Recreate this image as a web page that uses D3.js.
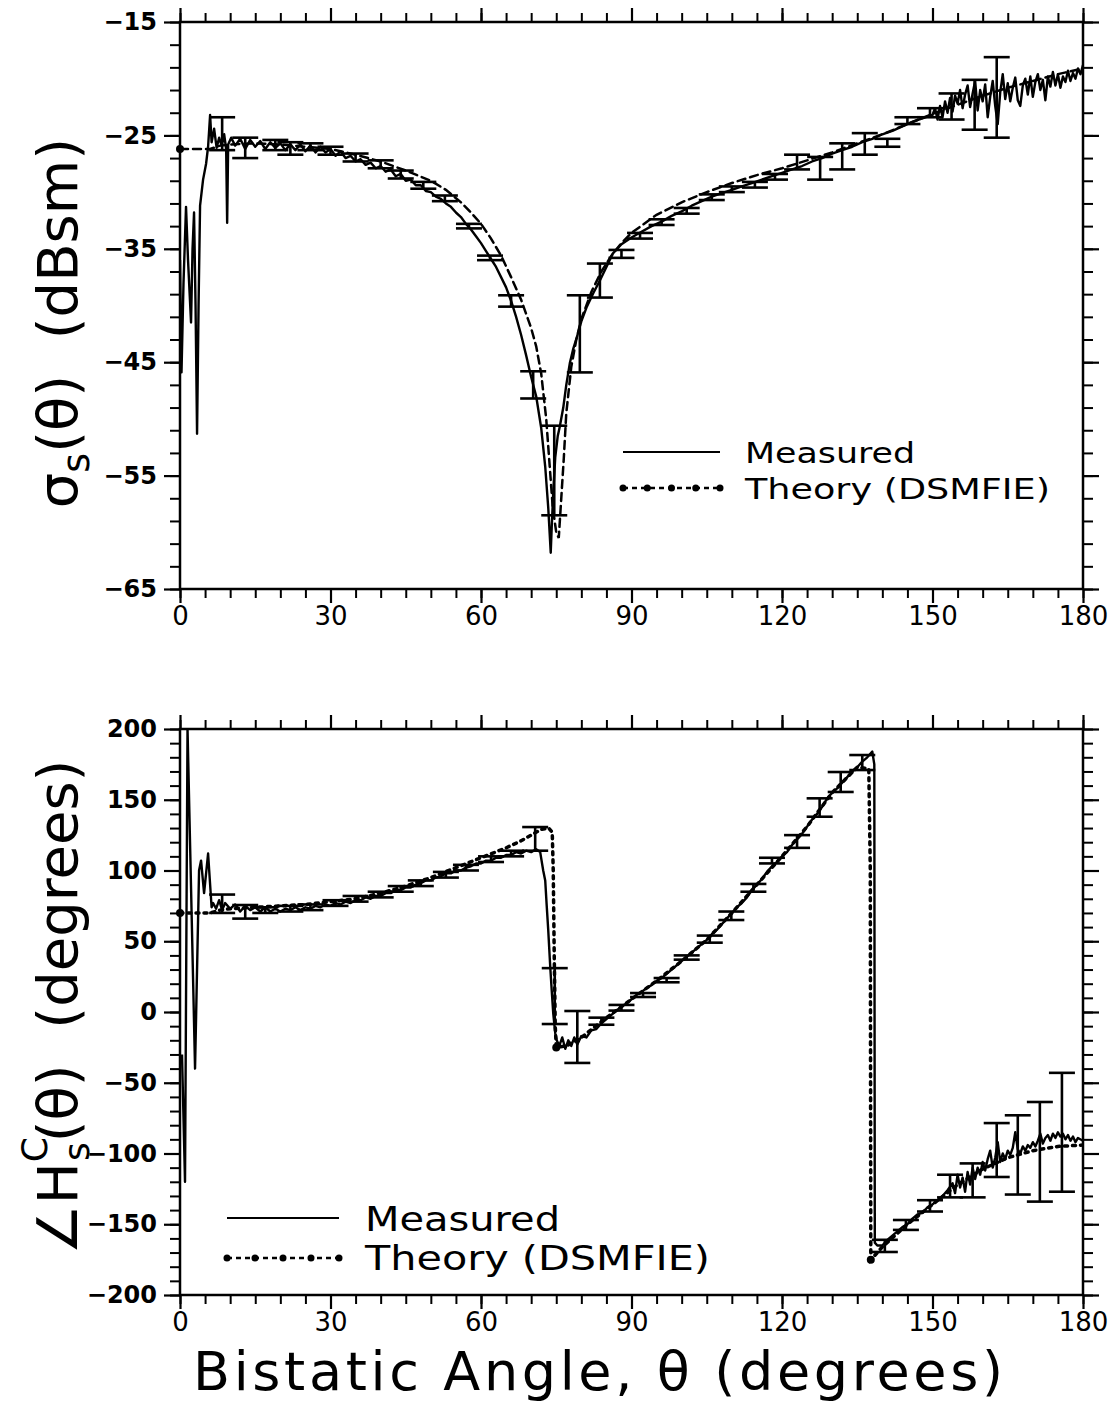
<!DOCTYPE html>
<html>
<script src="https://d3js.org/d3.v7.min.js"></script>

<head>
    <style>
        body {
            margin: 0;
            background-color: white;
        }

        svg {
            display: block;
            font-family: "DejaVu Sans", sans-serif;
        }
    </style>
</head>

<body>
</body>
<script>
    const width = 1112,
        height = 1403;

    // ---- data: [angle (deg), value] ----
    const angleMajor = [0, 30, 60, 90, 120, 150, 180];
    const rcsMajor = [-65, -55, -45, -35, -25, -15];
    const phaseMajor = [-200, -150, -100, -50, 0, 50, 100, 150, 200];

    const rcsMeasured = [
        [0, -36], [0.3, -45.9], [0.7, -38], [1.2, -31.3], [1.6, -36], [2.2, -41.5], [2.5, -35], [2.8, -31.8],
        [3.1, -40], [3.4, -51.3], [3.7, -40], [4.0, -31.2], [4.6, -28.9], [5.2, -27.5], [5.6, -26], [6.0, -23.2],
        [6.3, -25.6], [6.8, -24.4], [7.3, -26.1], [7.8, -25.2], [8.3, -25.9], [8.8, -24.9], [9.2, -26.2],
        [9.4, -32.7], [9.6, -25.8], [10.2, -25.2], [11, -25.9], [12, -25.3], [13, -26.2], [14, -25.4],
        [15, -26.0], [16, -25.5], [17, -26.2], [18, -25.6], [19, -26.1], [20, -25.7], [21, -26.3], [22, -25.8],
        [23, -26.3], [24, -25.8], [25, -26.4], [26, -25.9], [27, -26.5], [28, -26.0], [29, -26.5], [30, -26.2],
        [31, -26.8], [32, -26.4], [33, -27.0], [34, -26.8], [35, -27.3], [36, -27.1], [37, -27.6], [38, -27.4],
        [39, -27.9], [40, -27.7], [41, -28.2], [42, -28.0], [43, -28.6], [44, -28.4], [45, -29.0], [46, -28.9],
        [47, -29.4], [48, -29.4], [49, -29.9], [50, -30.0], [51, -30.4], [52, -30.6], [53, -31.0], [54, -31.3],
        [55, -31.8], [56, -32.2], [57, -32.8], [58, -33.3], [59, -33.9], [60, -34.5], [61, -35.2], [62, -35.9],
        [63, -36.6], [64, -37.5], [65, -38.4], [66, -39.6], [67, -41.0], [68, -42.6], [69, -44.4], [70, -46.3],
        [71, -48.0], [72, -50.8], [72.8, -54.2], [73.4, -57.8], [73.9, -61.8], [74.1, -59.5], [74.4, -56.5],
        [74.8, -53.4], [75.3, -51.5], [75.7, -50.7], [76.4, -49.0], [77.0, -47.0], [77.7, -45.1], [78.4, -43.8],
        [79.1, -42.8], [80, -41.4], [81.1, -40.1], [82.4, -38.9], [83.7, -37.8], [85, -36.6], [86.3, -35.4],
        [88, -34.6], [90, -34.0], [92, -33.5], [94, -33.0], [96, -32.6], [98, -32.1], [100, -31.7], [102, -31.2],
        [104, -30.8], [106, -30.4], [108, -30.1], [110, -29.8], [112, -29.5], [114, -29.2], [116, -28.9],
        [118, -28.6], [120, -28.3], [122, -28.0], [124, -27.7], [126, -27.3], [128, -27.0], [130, -26.6],
        [132, -26.3], [134, -26.0], [136, -25.6], [138, -25.3], [140, -24.9], [142, -24.6], [144, -24.2],
        [146, -23.8], [148, -23.5], [150, -23.2], [150.5, -22.6], [151, -23.6], [151.5, -22.4], [152, -23.4],
        [152.5, -22.0], [153, -23.0], [153.5, -21.7], [154, -22.9], [154.5, -21.5], [155, -22.2], [155.5, -21.0],
        [156, -22.6], [156.5, -21.4], [157, -20.6], [157.5, -22.5], [158, -21.3], [158.5, -20.2], [159, -22.8],
        [159.5, -21.0], [160, -22.0], [160.5, -20.5], [161, -23.4], [161.5, -21.6], [162, -20.2], [162.5, -22.4],
        [163, -24.0], [163.5, -21.2], [164, -19.6], [164.5, -21.8], [165, -20.4], [165.5, -22.0], [166, -20.8],
        [166.5, -19.9], [167, -21.9], [167.5, -22.4], [168, -20.6], [168.5, -20.0], [169, -21.4], [169.5, -19.8],
        [170, -21.6], [170.5, -20.3], [171, -19.6], [171.5, -21.0], [172, -20.1], [172.5, -21.9], [173, -19.8],
        [173.5, -20.7], [174, -19.4], [174.5, -20.6], [175, -19.6], [175.5, -20.8], [176, -19.8], [176.5, -20.3],
        [177, -19.3], [177.5, -20.2], [178, -19.5], [178.5, -20.0], [179, -19.1], [179.5, -19.6], [180, -18.8]
    ];

    const rcsTheory = [
        [0, -26.2], [2, -26.2], [4, -26.2], [6, -26.2], [8, -25.9], [10, -25.8], [15, -25.7], [20, -25.8],
        [25, -26.0], [30, -26.2], [35, -26.7], [40, -27.3], [45, -28.1], [50, -29.0], [53, -29.8], [56, -30.9],
        [58, -31.8], [60, -32.8], [62, -34.1], [64, -35.6], [66, -37.5], [68, -39.5], [70, -42.0], [71, -43.6],
        [72, -46.0], [73, -50.0], [73.7, -54.2], [74.3, -57.8], [75, -60.0], [75.5, -60.5], [76, -57.0],
        [76.5, -53.5], [77, -49.5], [78, -45.4], [79, -43.0], [80, -41.2], [82, -38.8], [84, -37.0], [86, -35.6],
        [88, -34.5], [90, -33.6], [95, -32.0], [100, -30.9], [105, -30.0], [110, -29.2], [115, -28.5],
        [120, -27.9], [125, -27.2], [130, -26.5], [135, -25.7], [140, -24.9], [145, -24.0], [150, -23.1],
        [155, -22.3], [160, -21.5], [165, -20.8], [170, -20.2], [175, -19.6], [180, -19.1]
    ];

    // [angle, low, high]
    const rcsErrors = [
        [8.4, -26.3, -23.4], [13, -27.0, -25.2], [19, -26.3, -25.4], [22, -26.7, -25.6], [26, -26.3, -25.7],
        [30, -26.7, -26.0], [35, -27.3, -26.6], [40, -27.9, -27.2], [44, -28.8, -28.1], [48.5, -29.7, -29.1],
        [52.8, -30.8, -30.3], [57.6, -33.2, -32.8], [61.8, -36.0, -35.6], [66, -40.1, -39.1],
        [70.4, -48.2, -45.8], [74.6, -58.5, -50.6], [79.7, -45.9, -39.1], [83.7, -39.3, -36.3],
        [88, -35.8, -35.1], [91.7, -34.1, -33.6], [96, -32.9, -32.4], [101, -31.9, -31.4], [106, -30.7, -30.2],
        [110, -30.0, -29.5], [114.6, -29.6, -29.1], [118.6, -28.9, -28.4], [123, -28.0, -26.7],
        [127.6, -28.9, -26.9], [132, -28.0, -25.7], [136.5, -26.7, -24.8], [141, -26.0, -25.3],
        [145, -24.0, -23.4], [149.5, -23.4, -22.6], [153.8, -23.6, -21.3], [158.4, -24.5, -20.1],
        [162.8, -25.2, -18.1]
    ];
    const rcsTheoryDots = [0];

    const phaseMeasured = [
        [0.4, -30], [1.0, -120], [1.5, 200], [3.0, -40], [3.8, 100], [4.2, 107], [4.8, 84], [5.6, 112],
        [6.3, 74], [6.6, 77], [7.2, 73], [7.8, 79], [8.4, 72], [9, 77], [10, 73], [11, 76], [12, 71], [13, 75],
        [14, 72], [15, 74], [16, 71], [17, 74], [18, 71], [19, 73], [20, 71], [21, 73], [22, 72], [23, 74],
        [24, 72], [25, 74], [26, 73], [27, 75], [28, 74], [29, 76], [30, 75], [31, 77], [32, 76], [33, 78],
        [34, 77], [35, 79], [36, 79], [37, 81], [38, 80], [39, 82], [40, 82], [41, 84], [42, 84], [43, 86],
        [44, 86], [45, 88], [46, 88], [47, 90], [48, 91], [49, 93], [50, 93], [51, 95], [52, 96], [53, 98],
        [54, 98], [55, 100], [56, 100], [57, 102], [58, 103], [59, 105], [60, 105], [61, 107], [62, 107],
        [63, 109], [64, 109], [65, 111], [66, 111], [67, 113], [68, 112], [69, 114], [70, 113], [71, 115],
        [71.8, 113], [72.4, 100], [72.8, 93], [73.1, 75], [73.4, 58], [73.6, 45], [73.8, 32], [74.1, 15],
        [74.4, -1], [74.8, -15], [75.1, -20], [75.6, -24], [76.2, -18], [76.8, -26], [77.4, -20], [78, -24],
        [78.6, -18], [79.2, -23], [80, -17], [81, -18], [82, -13], [83, -12], [84, -8], [85, -5], [86, -2],
        [87, 1], [88, 4], [89, 6], [90, 9], [91, 12], [92, 14], [93, 17], [94, 19], [95, 22], [96, 24], [97, 27],
        [98, 30], [99, 33], [100, 36], [101, 39], [102, 42], [103, 45], [104, 48], [105, 51], [106, 55],
        [107, 58], [108, 62], [109, 66], [110, 70], [111, 74], [112, 77], [113, 81], [114, 86], [115, 90],
        [116, 94], [117, 99], [118, 103], [119, 106], [120, 110], [121, 113], [122, 118], [123, 122],
        [124, 126], [125, 131], [126, 136], [127, 140], [128, 145], [129, 151], [130, 155], [131, 158],
        [132, 162], [133, 166], [134, 170], [135, 173], [136, 177], [137, 180], [138, 184], [138.4, 175],
        [138.5, -163], [139, -165], [140, -165], [141, -161], [142, -158], [143, -155], [144, -152],
        [145, -150], [146, -146], [147, -143], [148, -142], [149, -138], [150, -136], [151, -133], [152, -130],
        [153, -126], [154, -121], [154.5, -128], [155, -115], [155.5, -124], [156, -117], [156.5, -127],
        [157, -113], [157.5, -122], [158, -110], [158.5, -118], [159, -110], [159.5, -115], [160, -106],
        [160.5, -112], [161, -104], [161.5, -98], [162, -110], [162.5, -103], [163, -92], [163.5, -106],
        [164, -100], [164.5, -104], [165, -98], [165.5, -101], [166, -96], [166.5, -85], [167, -97],
        [167.5, -100], [168, -95], [168.5, -98], [169, -94], [169.5, -96], [170, -92], [170.5, -95], [171, -91],
        [171.5, -86], [172, -93], [172.5, -89], [173, -87], [173.5, -91], [174, -86], [174.5, -89], [175, -85],
        [175.5, -88], [176, -86], [176.5, -90], [177, -87], [177.5, -91], [178, -88], [178.5, -92], [179, -89],
        [180, -91]
    ];

    const phaseTheory = [
        [0, 70], [3, 70], [6, 70], [8, 72], [10, 73], [15, 74], [20, 75], [25, 76], [30, 78], [35, 80],
        [40, 84], [45, 89], [50, 95], [55, 102], [60, 109], [65, 116], [68, 121], [70, 125], [72, 129],
        [73.5, 130], [74.2, 127], [74.4, 100], [74.6, 40], [74.8, -10], [75, -25], [77, -24], [80, -18],
        [85, -4], [90, 9], [95, 22], [100, 36], [105, 51], [110, 70], [115, 90], [120, 110], [125, 131],
        [130, 155], [135, 173], [137.3, 172], [137.6, 100], [137.7, -175], [138.5, -172], [140, -166],
        [145, -150], [150, -136], [155, -122], [160, -111], [165, -103], [170, -98], [175, -95], [180, -94]
    ];

    const phaseErrors = [
        [8.4, 70, 83], [13, 66, 75.6], [17, 70, 74], [22, 71, 75], [26, 72, 76], [31, 75, 79], [35, 78, 82],
        [40, 81, 85], [44, 85, 89], [48, 89, 93], [53, 95, 99], [57, 100, 104], [62, 106, 110], [66, 110, 114],
        [70.8, 114, 130.7], [74.7, -8.5, 31], [79.2, -36, 0.7], [84, -9, -4], [88, 1, 5], [92.3, 10.6, 13.4],
        [97, 21, 24], [101, 37, 40], [105.6, 49, 54], [109.9, 65, 71], [114.3, 85, 90.5], [118, 105, 109],
        [123, 116, 125], [127.5, 138, 151], [131.7, 155.5, 169.6], [136, 171, 181.6], [140.5, -169.6, -161],
        [144.7, -154, -147], [149.5, -141, -133], [153.5, -131, -115], [158, -131, -107], [162.8, -116.6, -78.5],
        [167, -129, -73], [171.4, -134, -63.6], [175.8, -127, -43]
    ];
    const phaseTheoryDots = [0, 75, 137.7];

    const seriesNames = ["Measured", "Theory (DSMFIE)"];

    // ---- drawing ----
    const svg = d3.select("body").append("svg").attr("width", width).attr("height", height);
    svg.append("rect").attr("width", width).attr("height", height).attr("fill", "white");

    const x = d3.scaleLinear().domain([0, 180]).range([180, 1083]);
    const yTop = d3.scaleLinear().domain([-65, -15]).range([589, 22]);
    const yBot = d3.scaleLinear().domain([-200, 200]).range([1295, 729]);

    function makeAxis(i, y) {
        return i == 0 ? d3.axisLeft(y) : i == 1 ? d3.axisRight(y) : i == 2 ? d3.axisTop(x) : d3.axisBottom(x);
    }

    function drawPanel(id, y, p) {
        const g = svg.append("g");
        const [x0, x1] = x.range();
        const [yb, yt] = y.range();

        g.append("clipPath").attr("id", id)
            .append("rect").attr("x", x0).attr("y", yt).attr("width", x1 - x0).attr("height", yb - yt);

        // minor and major ticks on all four sides, pointing outward; labels left and bottom only
        const transforms = [`translate(${x0},0)`, `translate(${x1},0)`, `translate(0,${yt})`, `translate(0,${yb})`];
        transforms.forEach((tr, i) => {
            const isY = i < 2;
            const labels = i == 0 || i == 3;
            const minor = isY ? p.minorY : d3.range(0, 181, 5);
            const major = isY ? p.majorY : angleMajor;
            const gn = g.append("g").attr("transform", tr)
                .call(makeAxis(i, y).tickValues(minor).tickSize(isY ? 10 : 9).tickFormat("").tickSizeOuter(0));
            gn.select(".domain").remove();
            gn.selectAll("line").attr("stroke-width", 2);

            const axMajor = makeAxis(i, y).tickValues(major).tickSize(isY ? 16 : 14).tickSizeOuter(0)
                .tickPadding(isY ? 7 : 4);
            if (!labels) axMajor.tickFormat("");
            const gm = g.append("g").attr("transform", tr).call(axMajor);
            gm.select(".domain").remove();
            gm.selectAll("line").attr("stroke-width", 2.2);
            gm.selectAll("text")
                .attr("font-family", "DejaVu Sans")
                .attr("font-size", isY ? 24 : 26)
                .attr("font-weight", isY ? "bold" : "normal")
                .attr("fill", "black");
        });

        g.append("rect")
            .attr("x", x0).attr("y", yt).attr("width", x1 - x0).attr("height", yb - yt)
            .attr("fill", "none").attr("stroke", "black").attr("stroke-width", 2.5);

        const plot = g.append("g").attr("clip-path", `url(#${id})`);
        const line = d3.line().x(d => x(d[0])).y(d => y(d[1]));

        plot.append("path").datum(p.theory)
            .attr("d", line).attr("fill", "none").attr("stroke", "black")
            .attr("stroke-width", p.dashWidth).attr("stroke-dasharray", p.dash)
            .attr("stroke-linecap", "round");

        plot.append("path").datum(p.measured)
            .attr("d", line).attr("fill", "none").attr("stroke", "black")
            .attr("stroke-width", 2.4).attr("stroke-linejoin", "round");

        const eb = plot.selectAll(".eb").data(p.errors).join("g")
            .attr("stroke", "black").attr("stroke-width", 2.6);
        eb.append("line")
            .attr("x1", d => x(d[0])).attr("x2", d => x(d[0]))
            .attr("y1", d => y(d[1])).attr("y2", d => y(d[2]));
        [1, 2].forEach(k => {
            eb.append("line")
                .attr("x1", d => x(d[0]) - 13).attr("x2", d => x(d[0]) + 13)
                .attr("y1", d => y(d[k])).attr("y2", d => y(d[k]));
        });

        g.selectAll(".tdot").data(p.dots.map(a => p.theory.find(d => d[0] === a)))
            .join("circle")
            .attr("cx", d => x(d[0])).attr("cy", d => y(d[1])).attr("r", 4)
            .attr("fill", "black");

        // legend
        const L = p.legend;
        g.append("line").attr("x1", L.x0).attr("x2", L.x1).attr("y1", L.y1).attr("y2", L.y1)
            .attr("stroke", "black").attr("stroke-width", 2);
        g.append("line").attr("x1", L.x0).attr("x2", L.x1).attr("y1", L.y2).attr("y2", L.y2)
            .attr("stroke", "black").attr("stroke-width", 2.5).attr("stroke-dasharray", "5,4");
        g.selectAll(".ldot").data(d3.range(5)).join("circle")
            .attr("cx", i => L.x0 + i * (L.x1 - L.x0) / 4).attr("cy", L.y2).attr("r", 3.5)
            .attr("fill", "black");
        seriesNames.forEach((s, i) => {
            g.append("text")
                .attr("x", L.tx).attr("y", i == 0 ? L.b1 : L.b2)
                .attr("font-size", L.fs)
                .attr("textLength", L.widths[i]).attr("lengthAdjust", "spacingAndGlyphs")
                .text(s);
        });
    }

    drawPanel("clipTop", yTop, {
        measured: rcsMeasured, theory: rcsTheory, errors: rcsErrors, dots: rcsTheoryDots,
        majorY: rcsMajor, minorY: d3.range(-65, -14, 2),
        dash: "8,5", dashWidth: 2.5,
        legend: { x0: 623, x1: 720, y1: 452, y2: 488, tx: 745, b1: 463, b2: 499, fs: 29, widths: [170, 305] }
    });
    drawPanel("clipBot", yBot, {
        measured: phaseMeasured, theory: phaseTheory, errors: phaseErrors, dots: phaseTheoryDots,
        majorY: phaseMajor, minorY: d3.range(-200, 201, 10),
        dash: "3,5", dashWidth: 3.5,
        legend: { x0: 227, x1: 339, y1: 1218, y2: 1258, tx: 365, b1: 1231, b2: 1270, fs: 33, widths: [195, 345] }
    });

    // axis titles
    const t1 = svg.append("text")
        .attr("transform", "translate(77,323) rotate(-90)")
        .attr("text-anchor", "middle").attr("font-size", 56);
    t1.append("tspan").text("σ");
    t1.append("tspan").attr("font-size", 38).attr("dy", 12).text("s");
    t1.append("tspan").attr("dy", -12).text("(θ)\u00a0\u00a0(dBsm)");

    const t2 = svg.append("text")
        .attr("transform", "translate(77,1007) rotate(-90)")
        .attr("text-anchor", "middle").attr("font-size", 56);
    t2.append("tspan").text("∠H");
    t2.append("tspan").attr("font-size", 36).attr("dy", -30).text("C");
    t2.append("tspan").attr("font-size", 36).attr("dx", -24).attr("dy", 42).text("s");
    t2.append("tspan").attr("dy", -12).text("(θ)\u00a0\u00a0(degrees)");

    svg.append("text")
        .attr("x", 598).attr("y", 1390)
        .attr("text-anchor", "middle").attr("font-size", 54)
        .attr("textLength", 810).attr("lengthAdjust", "spacing")
        .text("Bistatic Angle, θ (degrees)");
</script>

</html>
